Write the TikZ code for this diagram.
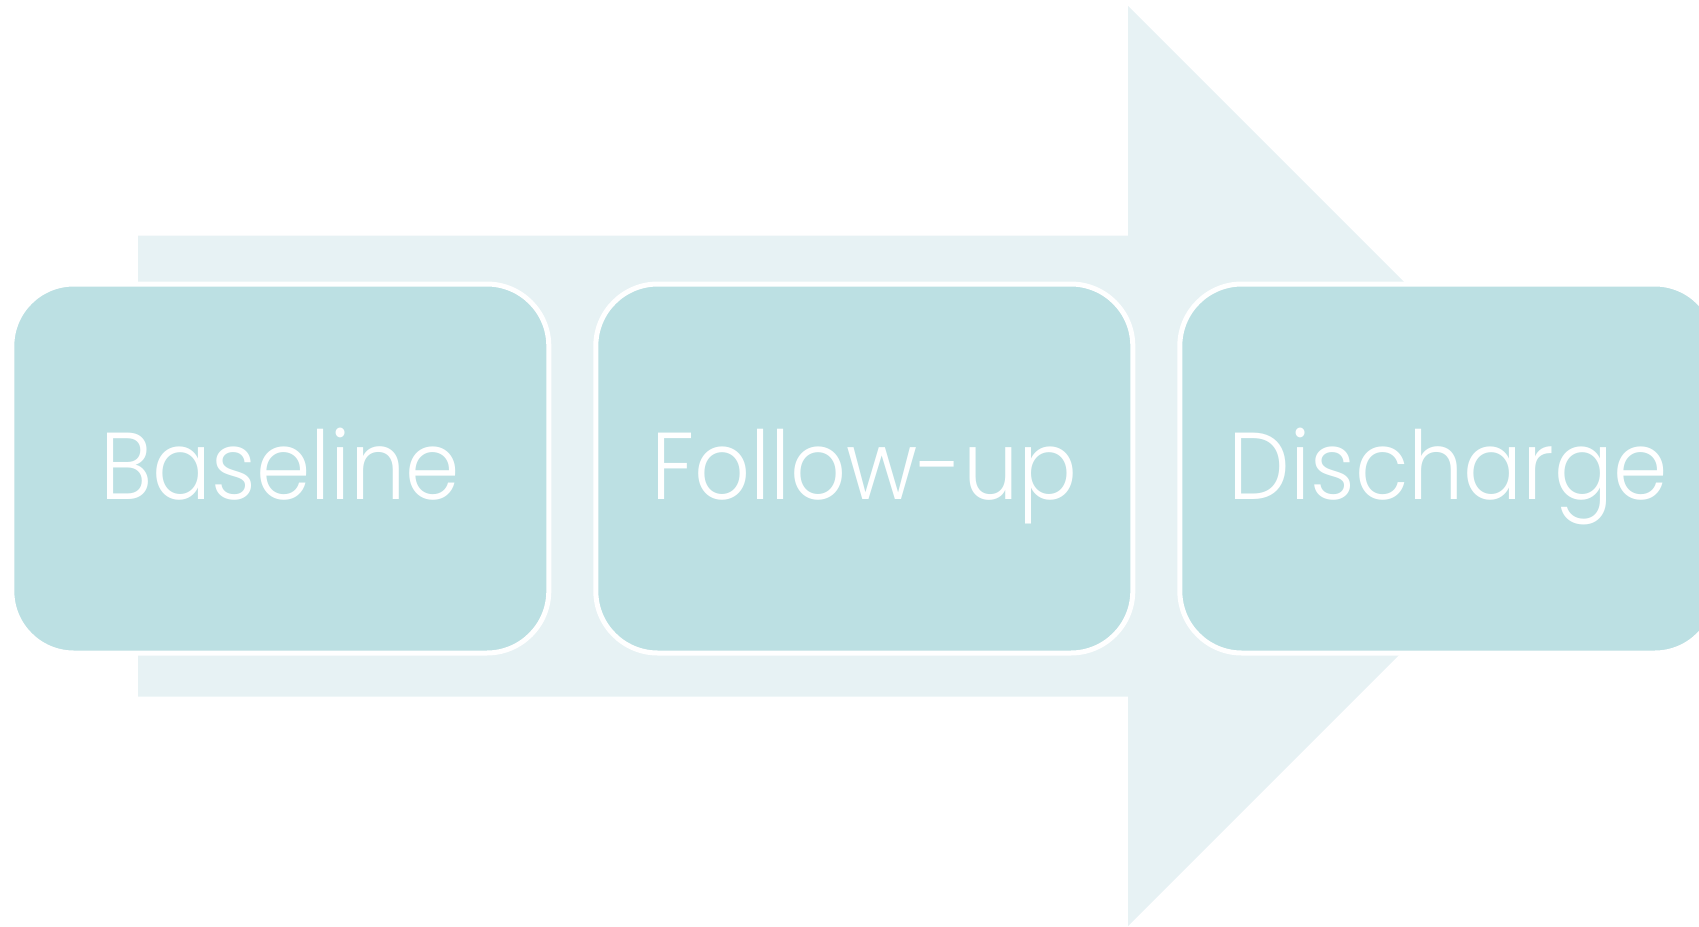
\documentclass[tikz,border=0pt]{standalone}
\usepackage{fontspec}
\setmainfont{Poppins Light}[FakeStretch=0.92]
\definecolor{arrowfill}{RGB}{231,242,244}
\definecolor{boxfill}{RGB}{188,224,227}
\begin{document}
\begin{tikzpicture}[x=0.5pt,y=-0.5pt,
  stage/.style={draw=white, fill=boxfill, line width=2.5pt, rounded corners=31pt,
    minimum width=268.5pt, minimum height=184.5pt, inner sep=0pt,
    text=white, font=\fontsize{47.5}{57}\selectfont, text height=32.5pt, text depth=2pt}]
\useasboundingbox (0,0) rectangle (1699,927);
\clip (0,0) rectangle (1699,927);
\fill[arrowfill] (138,235.5) -- (1128,235.5) -- (1128,6) -- (1588,466) -- (1128,926) -- (1128,696.5) -- (138,696.5) -- cycle;
\node[stage] (base) at (280.3,468.5) {Baseline};
\node[stage] (follow) at (864.3,468.5) {Follow-up};
\node[stage] (disch) at (1448.3,468.5) {Discharge};
\end{tikzpicture}
\end{document}
